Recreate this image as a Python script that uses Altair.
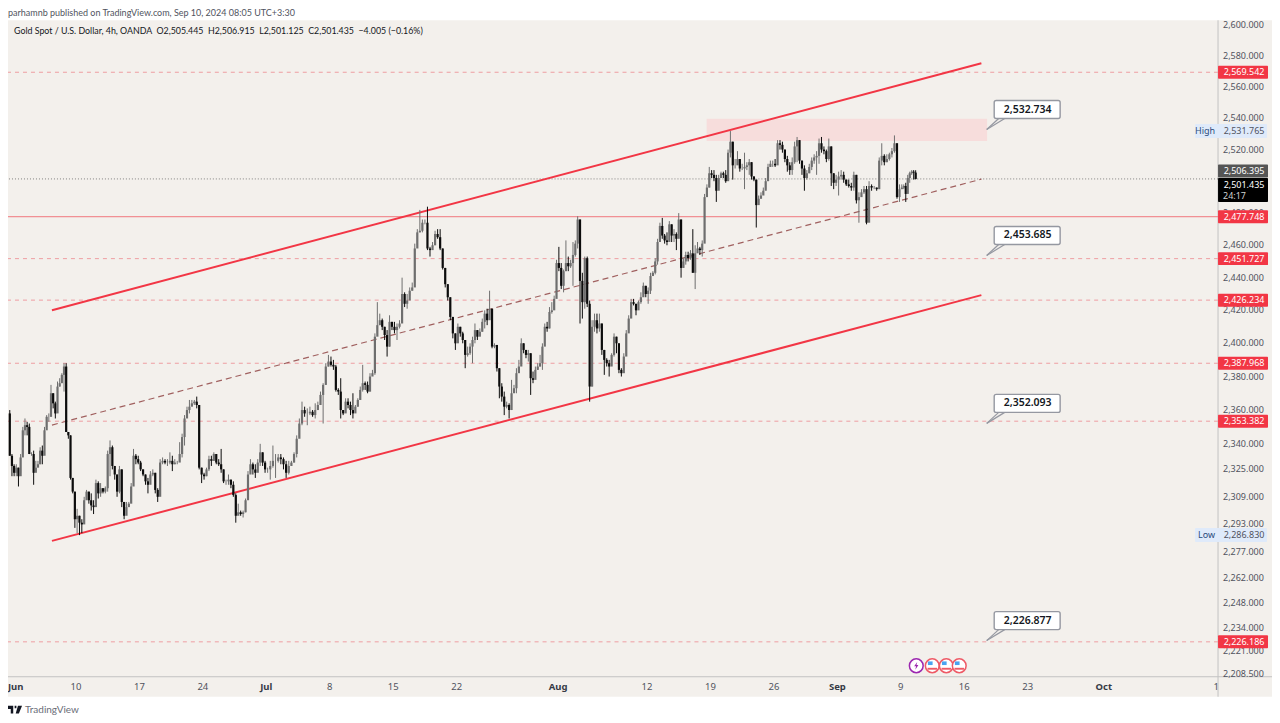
import altair as alt
import pandas as pd

FONT = "Noto Sans"
TOPFONT = "Lato"
BG = "#f3f0ec"
RED = "#f23645"

# candles per trading week (high, low, close); open is the previous close
highs = [
 [2360,2334,2328,2328,2326,2334,2350,2355,2353,2352,2335,2336,2330,2330,2338,2339,2350,2357,2358,2375,2369,2365,2377,2379,2382,2388,2388,2347,2345,2320,2312],
 [2302,2298,2296,2309,2313,2312,2311,2307,2319,2318,2317,2314,2315,2336,2342,2339,2325,2322,2327,2325,2306,2306,2306,2317,2337,2334,2333],
 [2330,2324,2322,2320,2324,2325,2323,2314,2331,2332,2331,2331,2335,2333,2331,2330,2341,2346,2357,2362,2366,2366,2366,2368,2362,2326],
 [2323,2326,2333,2333,2335,2332,2331,2337,2325,2319,2322,2318,2318,2311,2305,2301,2301,2308,2324,2331,2329,2328,2331,2340,2335,2330],
 [2326,2330,2339,2334,2334,2334,2332,2330,2330,2330,2335,2345,2355,2365,2362,2361,2362,2360,2364,2365,2371,2376,2388,2393],
 [2392,2390,2387,2373,2379,2360,2367,2367,2365,2370,2363,2367,2374,2387,2377,2377,2382,2384,2406,2425,2418,2415,2409,2408,2417,2412],
 [2413,2412,2414,2440,2431,2430,2434,2437,2461,2470,2482,2476,2476,2484,2459,2462,2469,2470,2470,2457,2445,2435,2426,2415,2404],
 [2412,2408,2407,2400,2398,2400,2404,2412,2407,2409,2415,2420,2421,2432,2420,2400,2398,2384,2376,2371,2365,2364,2378,2375,2385,2390],
 [2403,2400,2396,2396,2392,2383,2386,2388,2393,2400,2412,2413,2422,2425,2429,2451,2459,2449,2445,2463,2453,2451,2462,2463,2478,2474,2443],
 [2453,2453,2426,2414,2418,2418,2418,2411,2396,2391,2390,2394,2406,2404,2400,2385,2394,2408,2417,2427,2427,2424,2426,2431,2437,2434],
 [2434,2443,2444,2452,2464,2474,2477,2467,2468,2475,2470,2470,2468,2480,2475,2452,2456,2456,2457,2470,2460,2462,2459,2463,2492,2498,2509],
 [2507,2507,2504,2504,2506,2506,2507,2520,2531.765,2518,2514,2519,2513,2511,2518,2512,2514,2510,2503,2501,2491,2493,2496,2502,2511,2513,2513],
 [2514,2526,2526,2525,2518,2516,2512,2515,2525,2528,2525,2512,2510,2507,2511,2515,2517,2519,2527,2528,2522,2520,2527,2519,2504,2504],
 [2506,2507,2506,2501,2501,2499,2506,2504,2493,2495,2497,2497,2500,2498,2497,2496,2515,2524,2517,2517,2518,2521,2529,2523,2498],
 [2498,2498,2499,2504,2506,2507,2507,2506.915],
]
lows = [
 [2333,2321,2321,2321,2315,2323,2334,2345,2345,2334,2333,2316,2324,2327,2328,2328,2334,2350,2353,2356,2361,2355,2368,2374,2377,2371,2347,2343,2319,2311,2291],
 [2288,2286.83,2288,2301,2310,2305,2301,2299,2305,2308,2309,2311,2311,2312,2321,2325,2319,2309,2311,2303,2296,2301,2304,2306,2317,2328,2328],
 [2324,2321,2316,2311,2319,2321,2311,2306,2314,2328,2328,2327,2328,2324,2328,2328,2331,2332,2339,2356,2358,2363,2363,2361,2325,2317],
 [2319,2321,2324,2327,2330,2328,2327,2323,2317,2316,2316,2314,2309,2294,2299,2298,2297,2300,2308,2323,2322,2320,2324,2327,2327,2323],
 [2323,2319,2326,2320,2329,2328,2325,2320,2322,2327,2329,2332,2344,2351,2356,2351,2357,2356,2355,2360,2365,2352,2375,2386],
 [2386,2384,2371,2369,2355,2357,2359,2361,2357,2355,2360,2362,2366,2371,2372,2370,2371,2381,2381,2406,2411,2408,2402,2392,2398,2408],
 [2406,2402,2409,2414,2422,2421,2429,2432,2437,2460,2468,2468,2473,2457,2453,2459,2460,2464,2457,2445,2434,2426,2414,2403,2396],
 [2402,2404,2400,2385,2392,2393,2388,2400,2402,2405,2407,2409,2411,2418,2397,2397,2383,2367,2365,2357,2361,2355,2362,2371,2370,2383],
 [2388,2394,2391,2389,2369,2376,2380,2384,2386,2384,2400,2407,2409,2418,2421,2429,2444,2433,2431,2444,2444,2446,2435,2453,2458,2412,2415],
 [2421,2422,2365,2374,2407,2406,2407,2393,2381,2386,2380,2387,2392,2394,2382,2380,2385,2394,2408,2418,2423,2417,2423,2424,2430,2428],
 [2424,2430,2442,2442,2448,2463,2464,2461,2460,2467,2462,2462,2457,2468,2440,2446,2448,2450,2451,2443,2433,2456,2454,2453,2463,2492,2496],
 [2502,2500,2487,2498,2503,2502,2499,2505,2515,2501,2508,2511,2506,2507,2495,2507,2504,2501,2500,2471,2486,2489,2492,2495,2501,2509,2509],
 [2509,2512,2520,2518,2512,2506,2504,2504,2511,2512,2511,2504,2494,2501,2505,2507,2511,2504,2511,2518,2517,2512,2513,2497,2495,2497],
 [2491,2501,2499,2497,2496,2494,2494,2486,2474,2491,2492,2473,2484,2494,2495,2494,2495,2510,2510,2512,2513,2515,2518,2489,2487],
 [2495,2495,2487,2493,2499,2504,2501,2501.125],
]
closes = [
 [2333,2327,2323,2326,2321,2332,2348,2351,2350,2334,2334,2323,2326,2328,2336,2333,2348,2356,2356,2370,2364,2358,2374,2376,2381,2386,2347,2345,2320,2312,2296],
 [2298,2294,2293,2307,2312,2307,2304,2303,2317,2311,2314,2312,2314,2334,2338,2327,2322,2312,2325,2306,2298,2303,2305,2315,2333,2331,2329],
 [2325,2322,2318,2316,2322,2323,2313,2309,2329,2330,2329,2329,2330,2328,2329,2329,2334,2344,2355,2360,2362,2364,2365,2363,2326,2322],
 [2321,2325,2331,2330,2334,2329,2328,2325,2318,2318,2319,2316,2310,2298,2300,2299,2300,2307,2322,2328,2325,2323,2329,2335,2329,2325],
 [2325,2327,2330,2330,2332,2331,2328,2323,2327,2329,2334,2343,2352,2360,2358,2358,2359,2357,2360,2363,2369,2375,2386,2389],
 [2387,2386,2372,2371,2360,2358,2365,2363,2360,2358,2362,2366,2372,2376,2375,2371,2380,2382,2404,2411,2414,2410,2405,2398,2413,2410],
 [2408,2410,2412,2430,2424,2426,2432,2434,2458,2468,2469,2474,2474,2458,2457,2460,2467,2465,2458,2446,2436,2428,2416,2406,2400],
 [2410,2406,2402,2393,2394,2398,2402,2408,2404,2407,2413,2418,2414,2421,2398,2399,2385,2374,2368,2362,2363,2360,2370,2373,2382,2386],
 [2400,2396,2393,2394,2379,2378,2384,2386,2388,2398,2410,2409,2419,2420,2427,2449,2446,2435,2444,2449,2447,2449,2454,2461,2476,2438,2425],
 [2452,2424,2374,2410,2414,2409,2412,2396,2390,2388,2386,2393,2404,2400,2384,2382,2392,2406,2415,2425,2424,2420,2425,2428,2435,2430],
 [2432,2441,2443,2450,2462,2472,2466,2463,2462,2473,2466,2467,2464,2476,2446,2450,2454,2452,2455,2443,2455,2458,2457,2461,2490,2496,2505],
 [2504,2502,2494,2502,2505,2504,2500,2518,2525,2510,2510,2514,2508,2508,2509,2510,2512,2503,2501,2485,2489,2491,2494,2500,2509,2511,2511],
 [2510,2524,2523,2520,2514,2510,2507,2512,2522,2526,2513,2508,2502,2505,2509,2513,2515,2516,2524,2520,2519,2514,2522,2505,2499,2501],
 [2503,2504,2501,2498,2497,2496,2504,2488,2490,2493,2495,2474,2497,2496,2496,2495,2513,2516,2512,2514,2517,2519,2524,2490,2495],
 [2496,2497,2492,2502,2505,2506,2505.445,2501.435],
]
week_starts = [-0.06, 1, 2, 3, 4, 5, 6, 7, 8, 9, 10, 11, 12, 13, 14]
week_spans = [1.06, 1, 1, 1, 1, 1, 1, 1, 1, 1, 1, 1, 1, 1, 0.25]

tick_prices = [2600, 2580, 2560, 2540, 2520, 2480, 2460, 2440, 2420, 2400, 2380, 2360, 2340,
               2325, 2309, 2293, 2277, 2262, 2248, 2234, 2221, 2208.5]
x_weeks = [0.05, 1, 2, 3, 4, 5, 6, 7, 8.6, 10, 11, 12, 13, 14, 15, 16, 17.2, 18.97]
x_labels = ["Jun", "10", "17", "24", "Jul", "8", "15", "22", "Aug", "12", "19", "26", "Sep", "9", "16", "23", "Oct", "1"]
x_bold = [True, False, False, False, True, False, False, False, True, False, False, False, True, False, False, False, True, False]

dashed_levels = [2569.542, 2451.727, 2426.234, 2387.968, 2353.382, 2226.186]
solid_level = 2477.748
last_price = 2501.435
prev_price = 2506.395
high_price = 2531.765
low_price = 2286.83

channel_x = [0.622, 15.27]
channel_upper = [2420.1, 2575.4]
channel_lower = [2283.5, 2429.3]
channel_middle = [2351.1, 2501.3]

zone_x = [10.94, 15.36]
zone_y = [2525.4, 2539.6]

callout_x = 15.354
callout_prices = [2532.734, 2453.685, 2352.093, 2226.877]
event_weeks = [14.244]
flag_weeks = [14.496, 14.717, 14.921]

title_text = "parhamnb published on TradingView.com, Sep 10, 2024 08:05 UTC+3:30"
legend_text = ("Gold Spot / U.S. Dollar, 4h, OANDA\u00a0\u00a0O2,505.445\u00a0\u00a0H2,506.915\u00a0\u00a0"
               "L2,501.125\u00a0\u00a0C2,501.435\u00a0\u00a0\u22124.005 (\u22120.16%)")

rows = []
prev = 2358.0
for w, (hs, ls, cs) in enumerate(zip(highs, lows, closes)):
    n = len(cs)
    for j, (h, l, c) in enumerate(zip(hs, ls, cs)):
        rows.append(dict(week=week_starts[w] + week_spans[w] * (j + 0.5) / n,
                         high=max(h, prev, c), low=l,
                         open=prev, close=c, up=c >= prev))
        prev = c
candles = pd.DataFrame(rows)

xs = alt.Scale(domain=[-0.0709, 19.0])
ys = alt.Scale(type="log", domain=[2206.7, 2603.4], nice=False, zero=False)
X = lambda f="week": alt.X(f"{f}:Q", scale=xs, axis=None)
Y = lambda f="price": alt.Y(f"{f}:Q", scale=ys, axis=None)


def text_at(text, x, y, size=10, color="#50535e", weight="normal", align="left", font=FONT):
    return alt.Chart(pd.DataFrame({"t": [text]})).mark_text(
        align=align, baseline="middle", font=font, fontSize=size, fontWeight=weight, color=color
    ).encode(x=alt.value(x), y=alt.value(y), text="t:N")


bg = alt.Chart(pd.DataFrame({"a": [1]})).mark_rect(color=BG).encode(
    x=alt.value(0), x2=alt.value(1265), y=alt.value(0), y2=alt.value(677))
x_line = alt.Chart(pd.DataFrame({"a": [1]})).mark_rule(color="#c2c2c2", strokeWidth=1).encode(
    x=alt.value(0), x2=alt.value(1265), y=alt.value(657))
y_line = alt.Chart(pd.DataFrame({"a": [1]})).mark_rule(color="#c2c2c2", strokeWidth=1).encode(
    x=alt.value(1211), y=alt.value(0), y2=alt.value(677))

y_ticks = alt.Chart(pd.DataFrame({"price": tick_prices, "t": [f"{p:,.3f}" for p in tick_prices]})).mark_text(
    font=FONT, fontSize=9, color="#50535e", baseline="middle", align="left").encode(
    x=alt.value(1216), y=Y(), text="t:N")

zone = alt.Chart(pd.DataFrame({"x": [zone_x[0]], "x2": [zone_x[1]], "y": [zone_y[0]], "y2": [zone_y[1]]})).mark_rect(
    color="#f7dddc").encode(x=X("x"), x2="x2:Q", y=Y("y"), y2="y2:Q")

dashed = alt.Chart(pd.DataFrame({"price": dashed_levels})).mark_rule(
    color="#ee9ea2", strokeDash=[4, 4], strokeWidth=1).encode(y=Y())
solid = alt.Chart(pd.DataFrame({"price": [solid_level]})).mark_rule(
    color="#f0767d", strokeWidth=1).encode(y=Y())
dotted = alt.Chart(pd.DataFrame({"price": [last_price]})).mark_rule(
    color="#666666", strokeDash=[1, 2], strokeWidth=0.8).encode(y=Y())


def channel(values, color, width, dash=None):
    kw = {"strokeDash": dash} if dash else {}
    return alt.Chart(pd.DataFrame({"week": channel_x, "price": values})).mark_line(
        color=color, strokeWidth=width, **kw).encode(x=X(), y=Y())


upper = channel(channel_upper, RED, 2)
lower = channel(channel_lower, RED, 2)
middle = channel(channel_middle, "#a0605f", 1.2, [6, 4])

color = alt.condition("datum.up", alt.value("#6e6e6e"), alt.value("#0c0c0c"))
wicks = alt.Chart(candles).mark_rule(strokeWidth=1).encode(x=X(), y=Y("high"), y2="low:Q", color=color)
bodies = alt.Chart(candles).mark_rule(strokeWidth=2.2).encode(x=X(), y=Y("open"), y2="close:Q", color=color)

call = pd.DataFrame({"week": [callout_x] * 4, "price": callout_prices,
                     "label": [f"{p:,.3f}" for p in callout_prices]})
wedge1 = alt.Chart(call).mark_rule(color="#9598a1", strokeWidth=1.2, x2Offset=12, y2Offset=-11).encode(
    x=X(), x2="week:Q", y=Y(), y2="price:Q")
wedge2 = alt.Chart(call).mark_rule(color="#9598a1", strokeWidth=1.2, x2Offset=18, y2Offset=-11).encode(
    x=X(), x2="week:Q", y=Y(), y2="price:Q")
box = alt.Chart(call).mark_rect(width=66, height=18, xOffset=40.5, yOffset=-20, fill="white",
                                stroke="#9598a1", strokeWidth=1.4, cornerRadius=2).encode(x=X(), y=Y())
box_text = alt.Chart(call).mark_text(xOffset=41, yOffset=-20, font=FONT, fontSize=10.5, fontWeight=600,
                                     color="#131722", baseline="middle").encode(x=X(), y=Y(), text="label:N")


def tag(prices, fill, h=13, w=50, yoff=0):
    return alt.Chart(pd.DataFrame({"price": prices})).mark_rect(
        color=fill, width=w, height=h, yOffset=yoff, cornerRadius=1).encode(x=alt.value(1236), y=Y())


def tag_text(prices, labels, color="white", yoff=0, x=1237):
    return alt.Chart(pd.DataFrame({"price": prices, "t": labels})).mark_text(
        font=FONT, fontSize=9, color=color, yOffset=yoff, baseline="middle").encode(
        x=alt.value(x), y=Y(), text="t:N")


red_tag = tag(dashed_levels + [solid_level], RED)
red_txt = tag_text(dashed_levels + [solid_level], [f"{p:,.3f}" for p in dashed_levels + [solid_level]])
gray_tag = tag([prev_price], "#555555", h=13)
gray_txt = tag_text([prev_price], [f"{prev_price:,.3f}"])
black_tag = tag([last_price], "#000000", h=24, yoff=11)
black_txt = tag_text([last_price], [f"{last_price:,.3f}"], yoff=6)
timer_txt = alt.Chart(pd.DataFrame({"price": [last_price], "t": ["24:17"]})).mark_text(
    font=FONT, fontSize=9, color="#d0d0d0", yOffset=17, baseline="middle", align="left").encode(
    x=alt.value(1216), y=Y(), text="t:N")

hl_prices = [high_price, low_price]
hl_names = ["High", "Low"]
hl_band = alt.Chart(pd.DataFrame({"price": hl_prices})).mark_rect(
    color="#dfeafa", height=14, width=72, cornerRadius=1).encode(x=alt.value(1224), y=Y())
hl_value = tag_text(hl_prices, [f"{p:,.3f}" for p in hl_prices], color="#50535e")
hl_name = alt.Chart(pd.DataFrame({"price": hl_prices, "t": hl_names})).mark_text(
    font=FONT, fontSize=9, color="#2a4a7a", align="right", baseline="middle").encode(
    x=alt.value(1208), y=Y(), text="t:N")

xdf = pd.DataFrame({"week": x_weeks, "t": x_labels, "b": x_bold})
xlab_n = alt.Chart(xdf[~xdf.b]).mark_text(font=FONT, fontSize=9.5, color="#50535e", baseline="middle").encode(
    x=X(), y=alt.value(667), text="t:N")
xlab_b = alt.Chart(xdf[xdf.b]).mark_text(font=FONT, fontSize=9.5, fontWeight="bold", color="#363a45", baseline="middle").encode(
    x=X(), y=alt.value(667), text="t:N")

ev_y = 646
ev_c = alt.Chart(pd.DataFrame({"week": event_weeks})).mark_point(
    shape="circle", size=190, filled=True, fill="white", stroke="#9c27b0", strokeWidth=1.5, opacity=1).encode(x=X(), y=alt.value(ev_y))
ev_b = alt.Chart(pd.DataFrame({"week": event_weeks})).mark_point(
    shape="M0.25,-1 L-0.55,0.15 L-0.05,0.15 L-0.25,1 L0.55,-0.2 L0.05,-0.2 Z", size=60, filled=True,
    fill="#9c27b0", opacity=1).encode(x=X(), y=alt.value(ev_y))
fl_df = pd.DataFrame({"week": flag_weeks})
fl_c = alt.Chart(fl_df).mark_point(shape="circle", size=190, filled=True, fill="white", stroke="#ee5a66",
                                   strokeWidth=1.5, opacity=1).encode(x=X(), y=alt.value(ev_y))
fl_blue = alt.Chart(fl_df).mark_point(shape="M-1,-1 L1,-1 L1,0.55 L-1,0.55 Z", size=22, filled=True, fill="#4aa3f0",
                                      opacity=1, xOffset=-2, yOffset=-2).encode(x=X(), y=alt.value(ev_y))
fl_r1 = alt.Chart(fl_df).mark_point(shape="M-1,-0.2 L1,-0.2 L1,0.2 L-1,0.2 Z", size=90, filled=True, fill="#ee5a66",
                                    opacity=1, yOffset=3).encode(x=X(), y=alt.value(ev_y))

logo = alt.Chart(pd.DataFrame({"a": [1]})).mark_point(
    shape="M-1,-0.55 L-0.25,-0.55 L-0.25,0.55 L-0.6,0.55 L-0.6,-0.1 L-1,-0.1 Z M-0.05,-0.55 L0.2,-0.55 L0.2,-0.2 L-0.05,-0.2 Z M0.42,-0.55 L1,-0.55 L0.55,0.55 L0.1,0.55 Z",
    size=200, filled=True, fill="#131722", opacity=1).encode(x=alt.value(7), y=alt.value(690))

chart = alt.layer(
    bg, x_line, y_line, y_ticks, zone, dashed, solid, dotted, upper, lower, middle, wicks, bodies,
    wedge1, wedge2, box, box_text,
    red_tag, red_txt, gray_tag, gray_txt, black_tag, black_txt, timer_txt,
    hl_band, hl_value, hl_name,
    xlab_n, xlab_b,
    ev_c, ev_b, fl_c, fl_blue, fl_r1, logo,
    text_at(title_text, 0, -7.5, size=9, color="#50535e", font=TOPFONT),
    text_at(legend_text, 6, 11, size=8.85, color="#131722", font=TOPFONT),
    text_at("TradingView", 17, 690, size=10, color="#6a6d78", font=TOPFONT),
).properties(
    width=1211, height=657,
    autosize=alt.AutoSizeParams(type="none"),
    padding={"left": 0, "top": 12, "right": 54, "bottom": 38},
    background="white",
).configure_view(stroke=None)

chart.save("out.html", embed_options={"renderer": "svg", "actions": False})
